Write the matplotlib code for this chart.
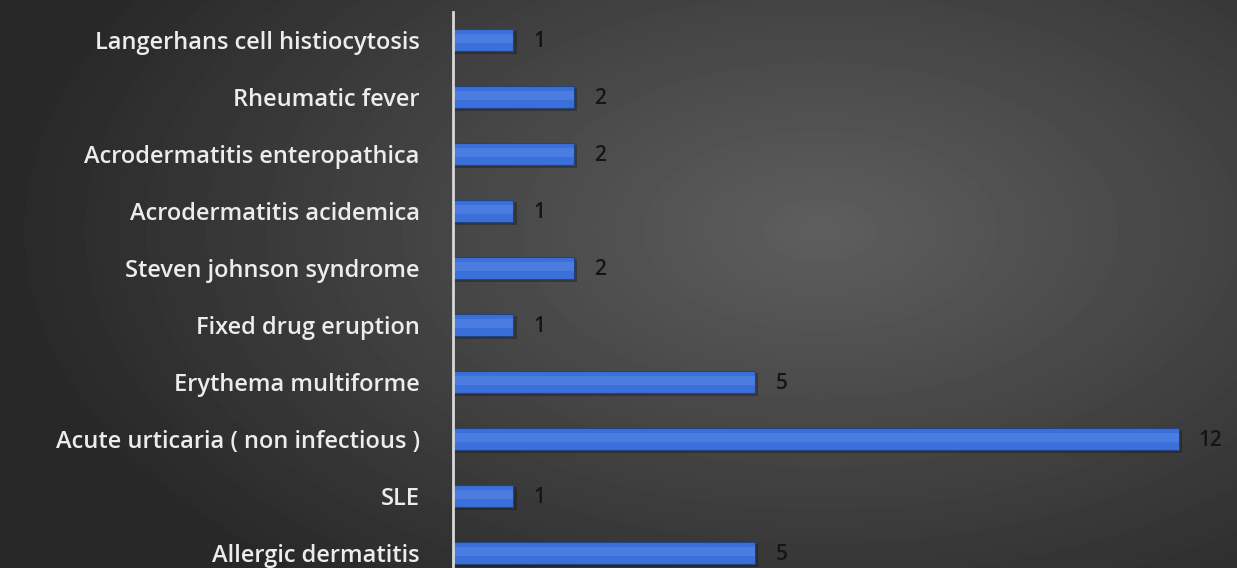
import numpy as np
import matplotlib.pyplot as plt

categories = ['Allergic dermatitis', 'SLE', 'Acute urticaria ( non infectious )',
              'Erythema multiforme', 'Fixed drug eruption', 'Steven johnson syndrome',
              'Acrodermatitis acidemica', 'Acrodermatitis enteropathica',
              'Rheumatic fever', 'Langerhans cell histiocytosis']
counts = [5, 1, 12, 5, 1, 2, 1, 2, 2, 1]

plt.rcParams['font.family'] = ['Open Sans', 'DejaVu Sans']

fig = plt.figure(figsize=(12.37, 5.68), dpi=100)

# radial gradient background
bg = fig.add_axes([0, 0, 1, 1])
yy, xx = np.mgrid[0:568, 0:1237]
r = np.sqrt(((xx - 820) / 850.0) ** 2 + ((yy - 230) / 480.0) ** 2)
shade = np.clip(0.37 - 0.22 * r, 0.16, 0.37)
bg.imshow(shade, cmap='gray', vmin=0, vmax=1, aspect='auto', extent=[0, 1, 0, 1])
bg.axis('off')

ax = fig.add_axes([453 / 1237, -13.5 / 568, 1 - 453 / 1237, (568 - 11.5 + 13.5) / 568])
ax.patch.set_alpha(0)
y = np.arange(len(categories))
# soft shadow under bars
ax.barh(y - 0.05, [c + 0.05 for c in counts], height=0.4, color='black', alpha=0.25, linewidth=0)
ax.barh(y, counts, height=0.39, color='#3b70da', edgecolor='#23437f', linewidth=0.8)
ax.barh(y + 0.03, counts, height=0.16, color='#5f8ce8', linewidth=0, alpha=0.45)
for yi, v in zip(y, counts):
    ax.text(v + 0.33, yi - 0.03, str(v), va='center', ha='left', fontsize=15,
            color='#151515', fontweight='semibold')

ax.set_xlim(0, 12.96)
ax.set_ylim(-0.5, len(categories) - 0.5)
ax.set_yticks(y)
ax.set_yticklabels(categories, fontsize=17, color='#ececec', fontweight='semibold')
ax.tick_params(axis='y', length=0, pad=24)
ax.set_xticks([])
for s in ['top', 'right', 'bottom']:
    ax.spines[s].set_visible(False)
ax.spines['left'].set_color('#d8d8d8')
ax.spines['left'].set_linewidth(2)

fig.savefig('out.png', dpi=100)
